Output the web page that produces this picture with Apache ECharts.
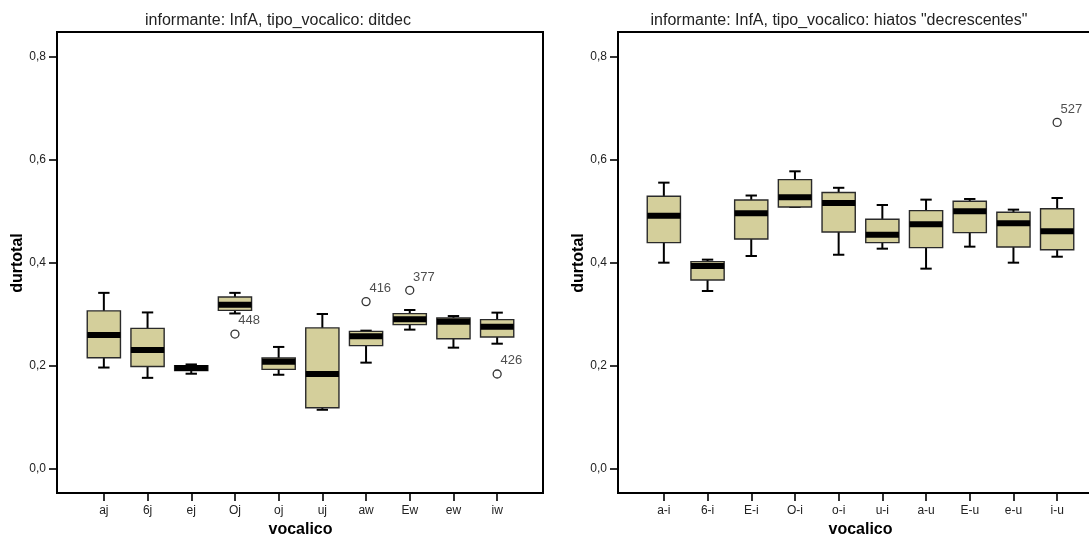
<!DOCTYPE html>
<html>
<head>
<meta charset="utf-8">
<script src="https://cdn.jsdelivr.net/npm/echarts@6/dist/echarts.min.js"></script>
<style>
html,body{margin:0;padding:0;background:#fff;}
#c{width:1089px;height:538px;}
</style>
</head>
<body>
<div id="c"></div>
<script>
// ---- Left panel: ditdec ----
const titleL = 'informante: InfA, tipo_vocalico: ditdec';
const catsL = ['aj','6j','ej','Oj','oj','uj','aw','Ew','ew','iw'];
const minL = [0.197, 0.177, 0.185, 0.302, 0.183, 0.115, 0.2065, 0.2706, 0.2356, 0.2433];
const q1L  = [0.216, 0.199, 0.191, 0.308, 0.1935, 0.119, 0.2395, 0.2803, 0.253, 0.2563];
const medL = [0.260, 0.231, 0.196, 0.319, 0.208, 0.1845, 0.2576, 0.2906, 0.286, 0.2764];
const q3L  = [0.307, 0.273, 0.2006, 0.334, 0.2155, 0.274, 0.2673, 0.3016, 0.2932, 0.290];
const maxL = [0.342, 0.304, 0.203, 0.342, 0.237, 0.301, 0.2686, 0.3087, 0.297, 0.3036];
const outCatL = ['Oj', 'aw', 'Ew', 'iw'];
const outValL = [0.262, 0.325, 0.347, 0.1845];
const outIdL  = ['448', '416', '377', '426'];

// ---- Right panel: hiatos "decrescentes" ----
const titleR = 'informante: InfA, tipo_vocalico: hiatos "decrescentes"';
const catsR = ['a-i','6-i','E-i','O-i','o-i','u-i','a-u','E-u','e-u','i-u'];
const minR = [0.4006, 0.3456, 0.4136, 0.5087, 0.416, 0.4278, 0.389, 0.4317, 0.4006, 0.4122];
const q1R  = [0.4395, 0.367, 0.4466, 0.5087, 0.4602, 0.4395, 0.4298, 0.4589, 0.431, 0.4258];
const medR = [0.4919, 0.394, 0.4964, 0.5275, 0.5165, 0.455, 0.475, 0.5003, 0.477, 0.4615];
const q3R  = [0.5295, 0.4026, 0.5223, 0.5618, 0.537, 0.4848, 0.5016, 0.5198, 0.4984, 0.5054];
const maxR = [0.556, 0.4065, 0.531, 0.578, 0.546, 0.5126, 0.523, 0.5243, 0.5036, 0.5262];
const outCatR = ['i-u'];
const outValR = [0.673];
const outIdR  = ['527'];

// y scale: labelled ticks 0..0.8; plotting range extends a bit beyond
const yTickMin = 0, yTickMax = 0.8, yTickStep = 0.2;
const yRangeMin = -0.0466, yRangeMax = 0.8485;
const xName = 'vocalico';
const yName = 'durtotal';

const FONT = '"Liberation Sans", Arial, sans-serif';
const BOX_FILL = '#d4cf9b';

function boxData(cats, mn, q1, md, q3, mx) {
  return cats.map((c, i) => [i, mn[i], q1[i], md[i], q3[i], mx[i]]);
}
function outData(cats, oc, ov, oid) {
  return oc.map((c, i) => ({ value: [cats.indexOf(c), ov[i]], name: oid[i] }));
}

function renderBox(params, api) {
  const x = api.value(0);
  const pMin = api.coord([x, api.value(1)]);
  const pQ1 = api.coord([x, api.value(2)]);
  const pMed = api.coord([x, api.value(3)]);
  const pQ3 = api.coord([x, api.value(4)]);
  const pMax = api.coord([x, api.value(5)]);
  const band = api.size([1, 0])[0];
  const bw = band * 0.76;
  const cw = band * 0.26;
  const cx = pMed[0];
  const ws = { stroke: '#000', lineWidth: 2 };
  return {
    type: 'group',
    children: [
      { type: 'line', shape: { x1: cx, y1: pMax[1], x2: cx, y2: pQ3[1] }, style: ws },
      { type: 'line', shape: { x1: cx, y1: pQ1[1], x2: cx, y2: pMin[1] }, style: ws },
      { type: 'line', shape: { x1: cx - cw / 2, y1: pMax[1], x2: cx + cw / 2, y2: pMax[1] }, style: ws },
      { type: 'line', shape: { x1: cx - cw / 2, y1: pMin[1], x2: cx + cw / 2, y2: pMin[1] }, style: ws },
      { type: 'rect', shape: { x: cx - bw / 2, y: pQ3[1], width: bw, height: pQ1[1] - pQ3[1] },
        style: { fill: BOX_FILL, stroke: '#2a2a2a', lineWidth: 1.4 } },
      { type: 'rect', shape: { x: cx - bw / 2, y: pMed[1] - 3, width: bw, height: 6 },
        style: { fill: '#000' } }
    ]
  };
}

function hiddenAxis(idx) {
  return { gridIndex: idx, type: 'value', show: false };
}
function boxX(idx, cats) {
  return {
    gridIndex: idx, type: 'category', data: cats, position: 'bottom',
    axisLine: { show: false, onZero: false },
    axisTick: { show: true, alignWithLabel: true, length: 8, lineStyle: { color: '#000', width: 1.6 } },
    axisLabel: { fontSize: 12, color: '#222', margin: 12, fontFamily: FONT },
    splitLine: { show: false },
    name: xName, nameLocation: 'middle', nameGap: 28,
    nameTextStyle: { fontSize: 16, fontWeight: 'bold', color: '#000', fontFamily: FONT }
  };
}
function boxY(idx) {
  return { gridIndex: idx, type: 'value', min: yRangeMin, max: yRangeMax, show: false };
}
function scaleY(idx) {
  return {
    gridIndex: idx, type: 'value', min: yTickMin, max: yTickMax, interval: yTickStep,
    axisLine: { show: false, onZero: false },
    axisTick: { show: true, length: 8, lineStyle: { color: '#000', width: 1.6 } },
    axisLabel: { fontSize: 12, color: '#222', margin: 11, fontFamily: FONT,
      formatter: v => v.toFixed(1).replace('.', ',') },
    splitLine: { show: false },
    name: yName, nameLocation: 'middle', nameGap: 31, nameRotate: 90,
    nameTextStyle: { fontSize: 16, fontWeight: 'bold', color: '#000', fontFamily: FONT }
  };
}
function outSeries(idx, data) {
  return {
    type: 'scatter', xAxisIndex: idx, yAxisIndex: idx, data: data,
    symbol: 'circle', symbolSize: 8, clip: false, z: 5,
    itemStyle: { color: '#fff', borderColor: '#000', borderWidth: 1.3 },
    label: { show: true, formatter: '{b}', position: [8, -15], fontSize: 13, color: '#222', fontFamily: FONT },
    emphasis: { disabled: true }
  };
}

const chart = echarts.init(document.getElementById('c'), null, { renderer: 'canvas' });
chart.setOption({
  animation: false,
  backgroundColor: '#fff',
  textStyle: { fontFamily: FONT },
  title: [
    { text: titleL, left: 278, top: 13, textAlign: 'center', padding: 0,
      textStyle: { fontSize: 16, fontWeight: 'normal', color: '#222', fontFamily: FONT } },
    { text: titleR, left: 839, top: 13, textAlign: 'center', padding: 0,
      textStyle: { fontSize: 16, fontWeight: 'normal', color: '#222', fontFamily: FONT } }
  ],
  grid: [
    // 0,1: frames
    { left: 57, top: 32, width: 486, height: 461, show: true, borderColor: '#000', borderWidth: 2, backgroundColor: 'transparent', outerBoundsMode: 'none' },
    { left: 618, top: 32, width: 486, height: 461, show: true, borderColor: '#000', borderWidth: 2, backgroundColor: 'transparent', outerBoundsMode: 'none' },
    // 2,3: y scale (0..0.8 span)
    { left: 57, top: 57, width: 486, height: 412, outerBoundsMode: 'none' },
    { left: 618, top: 57, width: 486, height: 412, outerBoundsMode: 'none' },
    // 4,5: box plot areas
    { left: 82, top: 32, width: 437, height: 461, outerBoundsMode: 'none' },
    { left: 642, top: 32, width: 437, height: 461, outerBoundsMode: 'none' }
  ],
  xAxis: [hiddenAxis(0), hiddenAxis(1), hiddenAxis(2), hiddenAxis(3), boxX(4, catsL), boxX(5, catsR)],
  yAxis: [hiddenAxis(0), hiddenAxis(1), scaleY(2), scaleY(3), boxY(4), boxY(5)],
  series: [
    { type: 'custom', xAxisIndex: 4, yAxisIndex: 4, renderItem: renderBox, clip: false,
      encode: { x: 0, y: [1, 2, 3, 4, 5] }, data: boxData(catsL, minL, q1L, medL, q3L, maxL) },
    { type: 'custom', xAxisIndex: 5, yAxisIndex: 5, renderItem: renderBox, clip: false,
      encode: { x: 0, y: [1, 2, 3, 4, 5] }, data: boxData(catsR, minR, q1R, medR, q3R, maxR) },
    outSeries(4, outData(catsL, outCatL, outValL, outIdL)),
    outSeries(5, outData(catsR, outCatR, outValR, outIdR))
  ]
});
</script>
</body>
</html>
